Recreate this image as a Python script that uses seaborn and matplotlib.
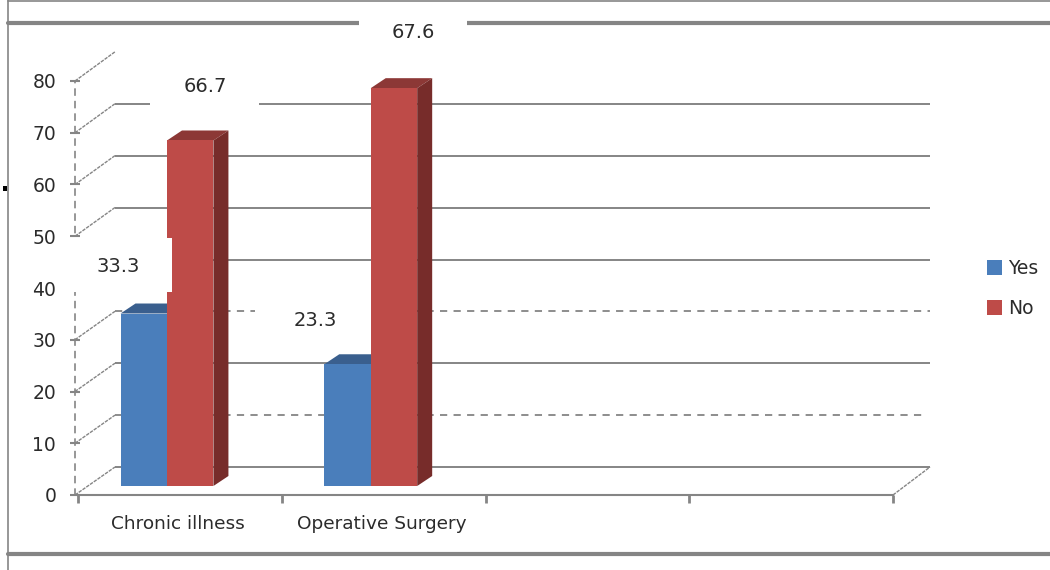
import seaborn as sns
import pandas as pd
import matplotlib
matplotlib.use('Agg')
import matplotlib.pyplot as plt
from matplotlib.patches import Polygon, Rectangle

# chart values
categories = ['Chronic illness', 'Operative Surgery', '', '']
groups = ['Yes', 'No']
yes_values = [33.3, 23.5]
# second red bar is drawn taller than its printed label in the original
no_values = [66.7, 76.8]
yes_labels = ['33.3', '23.3']
no_labels = ['66.7', '67.6']
y_ticks = [0, 10, 20, 30, 40, 50, 60, 70, 80]
wall_solid = [0, 20, 40, 50, 60, 70]
wall_dashed = [10, 30]

W, H = 1050, 570
GREY = '#858585'
TXT = '#2b2b2b'
DASH = (0, (4, 3.5))

sns.set_theme(style='white')
plt.rcParams['font.family'] = ['DejaVu Sans']

df = pd.DataFrame({
    'cat': categories[:2] * 2,
    'group': [groups[0]] * 2 + [groups[1]] * 2,
    'val': yes_values + no_values,
})

fig = plt.figure(figsize=(W / 100, H / 100), dpi=100)


# axes from pixel box (y measured from the top of the picture)
def px_axes(x0, x1, y_top, y_bottom, z):
    a = fig.add_axes([x0 / W, 1 - y_bottom / H, (x1 - x0) / W, (y_bottom - y_top) / H])
    a.patch.set_visible(False)
    a.set_zorder(z)
    return a


# back wall
ax_wall = px_axes(115, 930, 52, 467, 1)
ax_wall.set_xlim(0, 1)
ax_wall.set_ylim(0, 80)
ax_wall.hlines(wall_solid, 0, 1, color=GREY, lw=1.4, clip_on=False)
ax_wall.hlines(wall_dashed, 0, [0.993, 1.0], color=GREY, lw=1.3, linestyles=[DASH])
ax_wall.axis('off')

# front plane with the axis ticks and names
ax_front = px_axes(78, 893, 81, 495, 2)
ax_front.set_xlim(0, 4)
ax_front.set_ylim(0, 80)
ax_front.set_yticks(y_ticks)
ax_front.set_yticklabels([str(v) for v in y_ticks])
ax_front.set_xticks([0, 1, 2, 3, 4])
ax_front.set_xticklabels([])
ax_front.set_xticks([0.49, 1.49, 2.5, 3.5], minor=True)
ax_front.set_xticklabels(categories, minor=True, fontsize=13.3, color=TXT)
ax_front.tick_params(axis='x', which='major', length=5.5, width=2, color=GREY, bottom=True, direction='out')
ax_front.tick_params(axis='x', which='minor', length=0, pad=14.5)
ax_front.tick_params(axis='y', length=7, width=1.5, color=GREY, left=True, direction='inout', pad=10,
                     labelsize=13.5, labelcolor=TXT)
for s in ['top', 'right']:
    ax_front.spines[s].set_visible(False)
ax_front.spines['bottom'].set_color(GREY)
ax_front.spines['bottom'].set_linewidth(1.5)
ax_front.spines['left'].set_position(('outward', 2.2))
ax_front.spines['left'].set_color(GREY)
ax_front.spines['left'].set_linewidth(1.2)
ax_front.spines['left'].set_linestyle((0, (3.5, 4)))

# bars
ax_bars = px_axes(65.1, 880.1, 486 - 80 * 5.18, 486, 3)
sns.barplot(data=df, x='cat', y='val', hue='group', order=categories, hue_order=groups,
            palette=['#4A7EBB', '#BE4B48'], width=0.456, saturation=1, linewidth=0, ax=ax_bars)
ax_bars.set_xlim(-0.5, 3.5)
ax_bars.set_ylim(0, 80)
handles, names = ax_bars.get_legend_handles_labels()
ax_bars.get_legend().remove()
ax_bars.axis('off')

# fake depth of each bar, worked out from the bar itself
dx = 15 / 203.75
dy = 10 / 5.18
tops = {'#4A7EBB': '#3A5F8E', '#BE4B48': '#8C3836'}
sides = {'#4A7EBB': '#2F4D73', '#BE4B48': '#772C2A'}
bars = [p for p in ax_bars.patches if p.get_height() > 0]
for p in bars:
    c = matplotlib.colors.to_hex(p.get_facecolor()).upper()
    x0, w, h = p.get_x(), p.get_width(), p.get_height()
    is_no = c == '#BE4B48'
    p.set_edgecolor('none')
    p.set_zorder(5 if is_no else 3)
    ax_bars.add_patch(Polygon([(x0, h), (x0 + dx, h + dy), (x0 + w + dx, h + dy), (x0 + w, h)],
                              fc=tops[c], ec='none', zorder=4 if is_no else 2, clip_on=False))
    ax_bars.add_patch(Polygon([(x0 + w, 0), (x0 + w + dx, dy), (x0 + w + dx, h + dy), (x0 + w, h)],
                              fc=sides[c], ec='none', zorder=4 if is_no else 2, clip_on=False))

# overlay in picture pixels: frame, slanted floor lines, white label patches, labels
ov = px_axes(0, W, 0, H, 4)
ov.set_xlim(0, W)
ov.set_ylim(H, 0)
ov.axis('off')

ov.plot([8, 1050], [0.8, 0.8], color=GREY, lw=1.2, zorder=1)
ov.plot([8, 8], [0, 570], color=GREY, lw=1.2, zorder=1)
ov.plot([8, 1050], [23, 23], color=GREY, lw=3, zorder=1)
ov.plot([8, 1050], [554, 554], color=GREY, lw=3, zorder=1)
ov.add_patch(Rectangle((3, 186), 4, 5, fc='black', ec='none', zorder=1))

for v in y_ticks:
    ov.plot([75, 115], [495 - v * 5.175, 467 - v * 5.19], color=GREY, lw=1, ls=(0, (2.5, 0.8)), zorder=1)
ov.plot([893, 930], [495, 467], color=GREY, lw=1, ls=(0, (2.5, 0.8)), zorder=1)

# white patches behind the data labels, as in the source image
for x0, y0, x1, y1 in [(66, 238, 172, 292), (150, 70, 259, 112), (359, 8, 467, 48), (255, 296, 368, 342)]:
    ov.add_patch(Rectangle((x0, y0), x1 - x0, y1 - y0, fc='white', ec='none', zorder=2))

# data labels sit at fixed spots
label_spots = [(118, 267), (315, 320), (205, 87), (413, 32)]
for (lx, ly), t in zip(label_spots, yes_labels + no_labels):
    ov.text(lx, ly, t, ha='center', va='center', fontsize=14, color=TXT, zorder=3)

for h in handles:
    h.set_edgecolor('none')
fig.legend(handles, names, loc='upper left', bbox_to_anchor=(987 / W, 1 - 259 / H), frameon=False,
           fontsize=13.5, labelcolor=TXT, handlelength=0.8, handleheight=0.8, handletextpad=0.3,
           labelspacing=1.12, borderpad=0, borderaxespad=0)

fig.savefig('out.png', dpi=100, facecolor='white')
